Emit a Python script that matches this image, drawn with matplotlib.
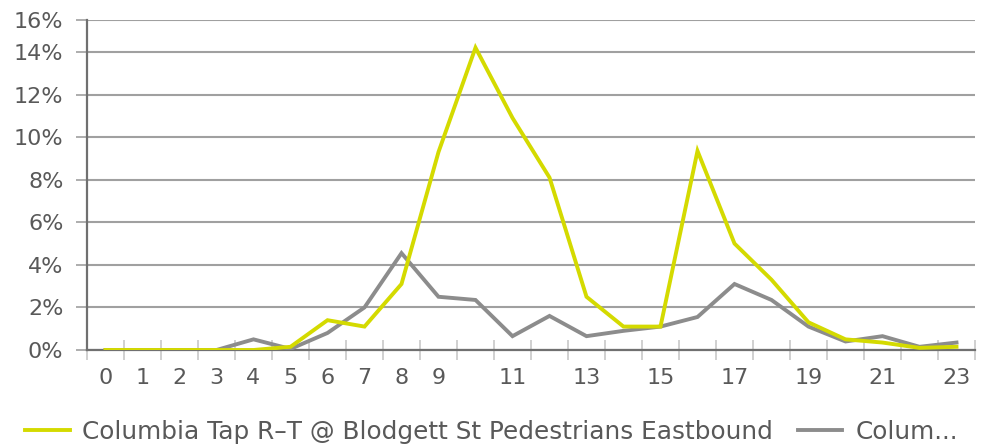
import matplotlib
matplotlib.use("Agg")
import matplotlib.pyplot as plt
from matplotlib.ticker import FixedLocator, NullFormatter

hours = list(range(24))
series_a_name = "Columbia Tap R–T @ Blodgett St Pedestrians Eastbound"
series_b_name = "Colum..."
series_a = [0, 0, 0, 0, 0, 0.15, 1.4, 1.1, 3.1, 9.3, 14.2, 10.9, 8.1, 2.5,
            1.1, 1.1, 9.35, 5.0, 3.3, 1.3, 0.5, 0.35, 0.1, 0.15]
series_b = [0, 0, 0, 0, 0.5, 0.05, 0.8, 2.0, 4.55, 2.5, 2.35, 0.65, 1.6, 0.65,
            0.9, 1.1, 1.55, 3.1, 2.35, 1.1, 0.4, 0.65, 0.15, 0.35]
x_tick_labels = ["0", "1", "2", "3", "4", "5", "6", "7", "8", "9",
                 "11", "13", "15", "17", "19", "21", "23"]
y_tick_values = [0, 2, 4, 6, 8, 10, 12, 14, 15.5]
y_tick_labels = ["0%", "2%", "4%", "6%", "8%", "10%", "12%", "14%", "16%"]

W, H = 987, 448
fig = plt.figure(figsize=(W / 100, H / 100), dpi=100)
ax = fig.add_axes([87 / W, (H - 350) / H, (975 - 87) / W, (350 - 20) / H])

text_color = "#595959"
fs = 16

ax.plot(hours, series_b, color="#8c8c8c", lw=2.8, label=series_b_name, zorder=3,
        solid_joinstyle="miter")
ax.plot(hours, series_a, color="#d4da00", lw=2.8, label=series_a_name, zorder=4,
        solid_joinstyle="miter")

ax.set_xlim(-0.5, 23.5)
ax.set_ylim(0, 15.5)

# y axis
ax.set_yticks(y_tick_values)
ax.set_yticklabels(y_tick_labels)
ax.yaxis.grid(True, color="#a0a0a0", lw=1.5)
ax.tick_params(axis="y", length=8, width=1.2, color="#a0a0a0", pad=9,
               labelsize=fs, labelcolor=text_color)

# x axis
xt = [int(s) for s in x_tick_labels]
ax.set_xticks(xt)
ax.set_xticklabels(x_tick_labels)
ax.tick_params(axis="x", which="major", length=0, pad=13, labelsize=fs,
               labelcolor=text_color)
ax.xaxis.set_minor_locator(FixedLocator([h - 0.5 for h in hours] + [23.5]))
ax.xaxis.set_minor_formatter(NullFormatter())
ax.tick_params(axis="x", which="minor", direction="inout", length=14.4,
               width=1.2, color="#c8c8c8")

for s in ["top", "right"]:
    ax.spines[s].set_visible(False)
for s in ["left", "bottom"]:
    ax.spines[s].set_color("#707070")
    ax.spines[s].set_linewidth(1.6)
ax.set_axisbelow(True)

handles, labels = ax.get_legend_handles_labels()
leg = fig.legend(handles[::-1], labels[::-1], loc="center left",
                 bbox_to_anchor=(25 / W, 1 - 432 / H), ncol=2, frameon=False,
                 fontsize=17.8, handlelength=1.8, handletextpad=0.52,
                 columnspacing=1.0, borderaxespad=0, borderpad=0)
for t in leg.get_texts():
    t.set_color(text_color)

fig.savefig("out.png", dpi=100)
